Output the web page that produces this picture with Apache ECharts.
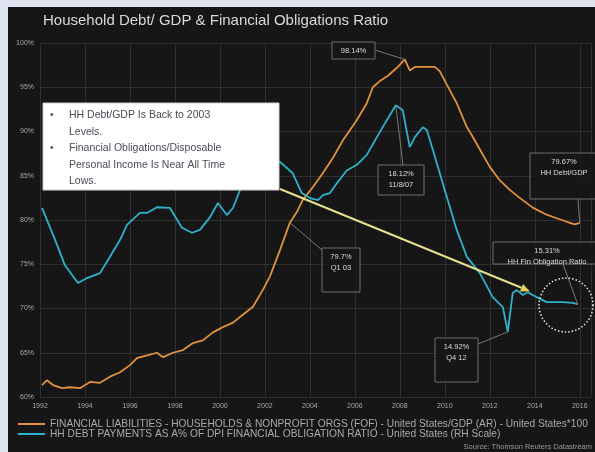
<!DOCTYPE html>
<html>
<head>
<meta charset="utf-8">
<script src="https://cdn.jsdelivr.net/npm/echarts@6/dist/echarts.min.js"></script>
<style>
  html, body { margin: 0; padding: 0; background: #dfe3ef; }
  #frame { position: absolute; left: 8px; top: 7px; width: 587px; height: 445px; background: #161616; }
  #chart { position: absolute; left: 0; top: 0; width: 595px; height: 452px; }
</style>
</head>
<body>
<div id="frame"></div>
<div id="chart"></div>
<script>
// Household debt / GDP (left scale, %) : [year, value]
const debtToGdp = [
  [1992.09, 61.35], [1992.31, 61.9], [1992.58, 61.35], [1992.98, 61.0], [1993.33, 61.1],
  [1993.78, 61.0], [1994.22, 61.7], [1994.67, 61.6], [1995.11, 62.3], [1995.56, 62.8],
  [1996.0, 63.6], [1996.31, 64.4], [1996.76, 64.7], [1997.2, 65.0], [1997.47, 64.5],
  [1997.91, 65.0], [1998.36, 65.3], [1998.8, 66.1], [1999.24, 66.4], [1999.69, 67.3],
  [2000.13, 67.9], [2000.58, 68.4], [2001.02, 69.3], [2001.47, 70.2], [2001.91, 72.1],
  [2002.22, 73.6], [2002.67, 76.6], [2003.11, 79.7], [2003.42, 80.9], [2003.69, 82.3],
  [2004.13, 83.7], [2004.58, 85.3], [2005.02, 87.0], [2005.47, 89.0], [2006.09, 91.3],
  [2006.53, 93.2], [2006.8, 95.0], [2007.11, 95.7], [2007.47, 96.3], [2007.87, 97.2],
  [2008.22, 98.14], [2008.44, 96.9], [2008.67, 97.3], [2009.2, 97.3], [2009.56, 97.3],
  [2009.78, 96.8], [2010.09, 95.3], [2010.53, 93.2], [2010.98, 90.5], [2011.24, 89.4],
  [2011.64, 87.6], [2012.0, 86.0], [2012.44, 84.5], [2012.89, 83.4], [2013.33, 82.5],
  [2013.91, 81.4], [2014.53, 80.6], [2014.98, 80.2], [2015.42, 79.8], [2015.78, 79.5],
  [2016.0, 79.67]
];

// Household financial obligations ratio (right scale, %) : [year, value]
const obligationsRatio = [
  [1992.09, 16.67], [1992.67, 16.22], [1993.11, 15.86], [1993.69, 15.61], [1994.09, 15.68],
  [1994.67, 15.75], [1995.11, 15.98], [1995.56, 16.22], [1995.87, 16.43], [1996.44, 16.6],
  [1996.76, 16.6], [1997.2, 16.68], [1997.78, 16.67], [1998.31, 16.39], [1998.76, 16.32],
  [1999.11, 16.36], [1999.56, 16.54], [1999.91, 16.74], [2000.31, 16.57], [2000.58, 16.67],
  [2000.89, 16.92], [2001.56, 17.28], [2002.13, 17.38], [2002.67, 17.32], [2003.24, 17.16],
  [2003.64, 16.88], [2004.0, 16.81], [2004.36, 16.78], [2004.58, 16.85], [2004.89, 16.88],
  [2005.2, 17.02], [2005.64, 17.2], [2006.09, 17.28], [2006.53, 17.42], [2006.98, 17.67],
  [2007.42, 17.91], [2007.82, 18.12], [2008.13, 18.05], [2008.44, 17.53], [2008.67, 17.67],
  [2009.02, 17.81], [2009.2, 17.77], [2009.47, 17.49], [2010.0, 16.92], [2010.53, 16.36],
  [2010.98, 15.98], [2011.56, 15.75], [2012.13, 15.41], [2012.58, 15.27], [2012.8, 14.92],
  [2013.02, 15.47], [2013.2, 15.51], [2013.47, 15.44], [2013.69, 15.48], [2014.09, 15.41],
  [2014.53, 15.34], [2014.98, 15.34], [2015.24, 15.34], [2015.69, 15.33], [2015.91, 15.31]
];

const yearTicks = [1992, 1994, 1996, 1998, 2000, 2002, 2004, 2006, 2008, 2010, 2012, 2014, 2016];
const leftTicks = [60, 65, 70, 75, 80, 85, 90, 95, 100];

const debtName = 'FINANCIAL LIABILITIES - HOUSEHOLDS & NONPROFIT ORGS (FOF) - United States/GDP (AR) - United States*100';
const forName = 'HH DEBT PAYMENTS AS A% OF DPI FINANCIAL OBLIGATION RATIO - United States (RH Scale)';

const ORANGE = '#e1913c';
const BLUE = '#2fb2cc';
const GRID = '#2f2f2f';
const FONT = 'Liberation Sans, Arial';

const chart = echarts.init(document.getElementById('chart'), null, { renderer: 'canvas' });

chart.setOption({
  backgroundColor: 'transparent',
  animation: false,
  title: {
    text: 'Household Debt/ GDP & Financial Obligations Ratio',
    left: 38, top: 8,
    textStyle: { color: '#d9d9d9', fontSize: 15, fontWeight: 'normal', fontFamily: FONT }
  },
  grid: { left: 40, right: 4, top: 43, bottom: 55 },
  legend: {
    orient: 'vertical', left: 13, top: 414, itemGap: 0,
    itemWidth: 27, itemHeight: 2, icon: 'rect',
    textStyle: { color: '#a9a9a9', fontSize: 10.2, fontFamily: FONT, padding: [0, 0, 0, 0] },
    data: [debtName, forName]
  },
  xAxis: {
    type: 'value', min: 1992, max: 2016.5, interval: 2,
    axisLine: { show: false }, axisTick: { show: false },
    splitLine: { show: true, lineStyle: { color: GRID, width: 1 } },
    axisLabel: {
      color: '#a8a8a8', fontSize: 7, margin: 6, showMaxLabel: false,
      fontFamily: FONT,
      formatter: v => yearTicks.includes(v) ? String(v) : ''
    }
  },
  yAxis: [
    {
      type: 'value', min: 60, max: 100, interval: 5,
      axisLine: { show: false }, axisTick: { show: false },
      splitLine: { show: true, lineStyle: { color: GRID, width: 1 } },
      axisLabel: {
        color: '#a8a8a8', fontSize: 7, margin: 6,
        fontFamily: FONT,
        formatter: v => leftTicks.includes(v) ? v + '%' : ''
      }
    },
    { type: 'value', min: 14, max: 19, show: false, splitLine: { show: false } }
  ],
  series: [
    {
      name: debtName, type: 'line', yAxisIndex: 0, data: debtToGdp,
      symbol: 'none', color: ORANGE, lineStyle: { width: 1.8, color: ORANGE }, z: 3
    },
    {
      name: forName, type: 'line', yAxisIndex: 1, data: obligationsRatio,
      symbol: 'none', color: BLUE, lineStyle: { width: 1.8, color: BLUE }, z: 4
    }
  ]
});

// Callout boxes and connectors, anchored on the series points they describe
function px(series, pt) {
  return chart.convertToPixel({ seriesIndex: series }, pt);
}
const peakDebt = px(0, debtToGdp.find(p => p[1] === 98.14));
const debt2003 = px(0, debtToGdp.find(p => p[0] === 2003.11));
const lastDebt = px(0, debtToGdp[debtToGdp.length - 1]);
const peakFor = px(1, obligationsRatio.find(p => p[1] === 18.12));
const lowFor = px(1, obligationsRatio.find(p => p[1] === 14.92));
const lastFor = px(1, obligationsRatio[obligationsRatio.length - 1]);

const boxStroke = '#6f6f6f';
const txt = { fill: '#dcdcdc', fontSize: 7.5, fontFamily: FONT, align: 'center' };

function callout(x, y, w, h, lines) {
  const els = [{
    type: 'rect', shape: { x: x, y: y, width: w, height: h },
    style: { fill: 'rgba(22,22,22,0.85)', stroke: boxStroke, lineWidth: 1 }, z: 20
  }];
  lines.forEach((t, i) => {
    els.push({
      type: 'text', x: x + w / 2, y: y + 5 + i * 11,
      style: Object.assign({ text: t }, txt), z: 21
    });
  });
  return els;
}
function connector(a, b) {
  return {
    type: 'line', shape: { x1: a[0], y1: a[1], x2: b[0], y2: b[1] },
    style: { stroke: '#7a7a7a', lineWidth: 1 }, z: 19
  };
}

const graphics = [];
// Peak household debt
graphics.push(...callout(332, 42, 43, 17, ['98.14%']));
graphics.push(connector([375, 50], peakDebt));
// Peak obligations ratio
graphics.push(...callout(378, 165, 46, 30, ['18.12%', '11/8/07']));
graphics.push(connector([403, 165], peakFor));
// Q1 2003 debt level
graphics.push(...callout(322, 248, 38, 44, ['79.7%', 'Q1 03']));
graphics.push(connector([322, 250], debt2003));
// Obligations ratio low
graphics.push(...callout(435, 338, 43, 44, ['14.92%', 'Q4 12']));
graphics.push(connector([478, 344], lowFor));
// Latest obligations ratio
graphics.push(...callout(493, 242, 108, 22, ['15.31%', 'HH Fin Obligation Ratio']));
graphics.push(connector([563, 264], lastFor));
// Latest debt / GDP
graphics.push(...callout(530, 153, 68, 46, ['79.67%', 'HH Debt/GDP']));
graphics.push(connector([578, 199], lastDebt));

// Dotted ring around the latest readings
graphics.push({
  type: 'circle', shape: { cx: 566, cy: 305, r: 27 },
  style: { fill: 'none', stroke: '#e8e8e8', lineWidth: 1.5, lineDash: [1.5, 2] }, z: 22
});

// Arrow from the commentary box to recent obligations ratio
const arrowEnd = px(1, [2013.69, 15.48]);
const aStart = [280, 189];
const ang = Math.atan2(arrowEnd[1] - aStart[1], arrowEnd[0] - aStart[0]);
const tip = [arrowEnd[0] + 2, arrowEnd[1] - 1];
const hl = 9, hw = 4;
const base = [tip[0] - hl * Math.cos(ang), tip[1] - hl * Math.sin(ang)];
graphics.push({
  type: 'line', shape: { x1: aStart[0], y1: aStart[1], x2: base[0], y2: base[1] },
  style: { stroke: '#e6df8e', lineWidth: 2 }, z: 23
});
graphics.push({
  type: 'polygon',
  shape: { points: [tip,
    [base[0] + hw * Math.sin(ang), base[1] - hw * Math.cos(ang)],
    [base[0] - hw * Math.sin(ang), base[1] + hw * Math.cos(ang)]] },
  style: { fill: '#e6cf5e' }, z: 23
});

// Commentary box
graphics.push({
  type: 'rect', shape: { x: 43, y: 103, width: 236, height: 87 },
  style: { fill: '#ffffff', stroke: '#cfcfcf', lineWidth: 1 }, z: 30
});
const notes = [
  ['•', 'HH Debt/GDP Is Back to 2003'],
  ['', 'Levels.'],
  ['•', 'Financial Obligations/Disposable'],
  ['', 'Personal Income Is Near All Time'],
  ['', 'Lows.']
];
notes.forEach((n, i) => {
  const y = 110 + i * 16.5;
  if (n[0]) graphics.push({ type: 'text', x: 50, y: y, style: { text: n[0], fill: '#4a4a55', fontSize: 10, fontFamily: FONT }, z: 31 });
  graphics.push({ type: 'text', x: 69, y: y, style: { text: n[1], fill: '#4a4a55', fontSize: 10.5, fontFamily: FONT }, z: 31 });
});

// Source line
graphics.push({
  type: 'text', x: 592, y: 443,
  style: { text: 'Source: Thomson Reuters Datastream', fill: '#9a9a9a', fontSize: 7.5, align: 'right', fontFamily: FONT }, z: 10
});

chart.setOption({ graphic: graphics });
</script>
</body>
</html>
